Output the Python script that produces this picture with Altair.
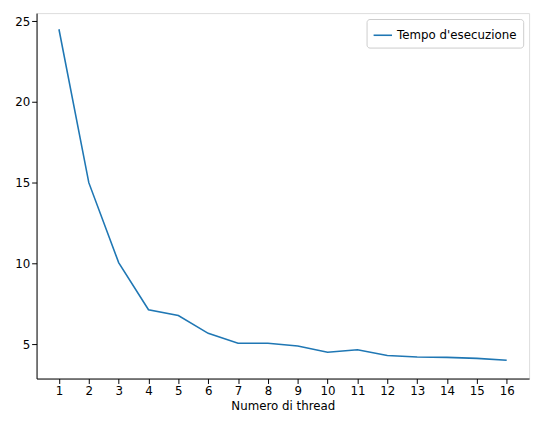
import altair as alt
import pandas as pd

threads = list(range(1, 17))
tempi = [24.5, 15.0, 10.05, 7.13, 6.77, 5.67, 5.06, 5.06, 4.88, 4.5, 4.65, 4.3, 4.2, 4.18, 4.12, 4.0]
serie = ["Tempo d'esecuzione"] * len(threads)

df = pd.DataFrame({"x": threads, "y": tempi, "s": serie})

chart = alt.Chart(df).mark_line(strokeWidth=1.6).encode(
    x=alt.X("x:Q", title="Numero di thread",
            scale=alt.Scale(domain=[0.25, 16.75], nice=False, zero=False),
            axis=alt.Axis(values=threads, grid=False, tickColor="black", domainColor="black",
                          labelColor="black", titleColor="black", labelFontSize=12,
                          titleFontSize=12, titleFontWeight="normal", labelFlush=False,
                          titlePadding=4)),
    y=alt.Y("y:Q", title=None,
            scale=alt.Scale(domain=[2.87, 25.5], nice=False, zero=False),
            axis=alt.Axis(values=[5, 10, 15, 20, 25], grid=False, tickColor="black",
                          domainColor="black", labelColor="black", labelFontSize=12)),
    color=alt.Color("s:N", scale=alt.Scale(range=["#1f77b4"]),
                    legend=alt.Legend(title=None, orient="top-right", symbolType="stroke",
                                      symbolStrokeWidth=1.6, symbolSize=350, labelFontSize=12,
                                      labelColor="black", strokeColor="#cccccc", fillColor="white",
                                      padding=6, cornerRadius=3, offset=6)),
).properties(
    width=500, height=371,
    padding={"left": 29, "top": 2, "right": 6, "bottom": 45},
    autosize=alt.AutoSizeParams(type="none"),
).configure_view(stroke="black", strokeWidth=1).configure(font="DejaVu Sans")

chart.save("out.html", embed_options={"renderer": "svg", "actions": False})
